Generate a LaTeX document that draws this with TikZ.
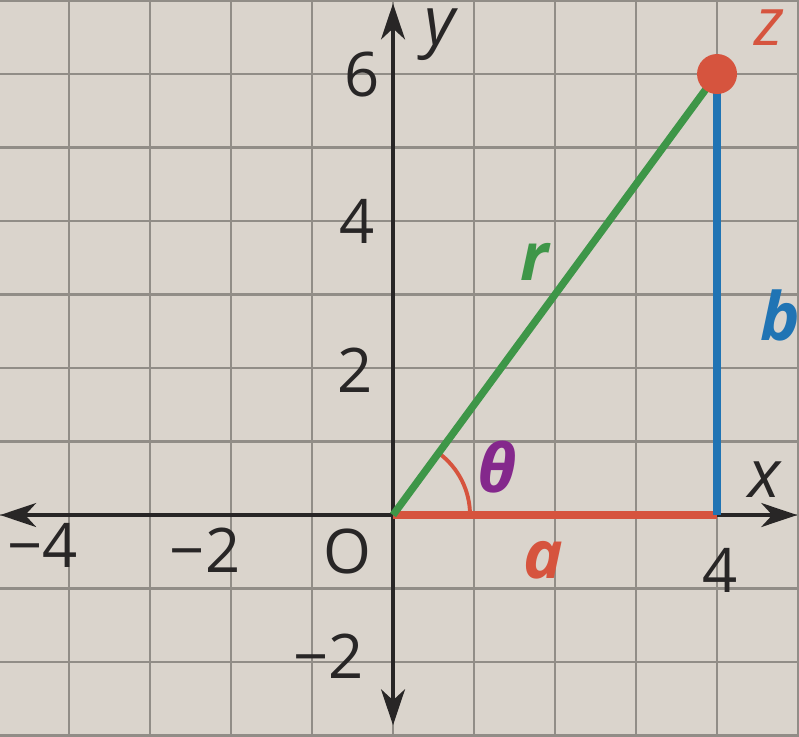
\documentclass[tikz,border=0pt]{standalone}
\usepackage{fontspec}
\setmainfont{Open Sans}
\usetikzlibrary{arrows.meta}

\definecolor{paper}{RGB}{218,212,204}
\definecolor{gridgray}{RGB}{145,141,135}
\definecolor{axisblack}{RGB}{40,38,38}
\definecolor{zred}{RGB}{214,84,62}
\definecolor{rgreen}{RGB}{62,150,72}
\definecolor{bblue}{RGB}{32,116,180}
\definecolor{thpurple}{RGB}{132,40,140}

\tikzset{
  gridline/.style={gridgray, line width=.6pt},
  axisline/.style={axisblack, line width=.9pt, {Stealth[length=3.6mm,width=2.4mm,inset=1.1mm]}-{Stealth[length=3.6mm,width=2.4mm,inset=1.1mm]}},
  side/.style={line width=2.1pt},
  ticklabel/.style={text=axisblack, inner sep=0pt},
  varlabel/.style={font=\fontsize{19}{22}\selectfont\bfseries\itshape, inner sep=0pt},
}

\begin{document}
\begin{tikzpicture}[x=.81cm, y=.735cm, font=\fontsize{17.5}{20}\selectfont]
    \fill[paper] (-4.852,-3.007) rectangle (5.012,7.007);
    \useasboundingbox (-4.852,-3.007) rectangle (5.012,7.007);
    % grid
    \foreach \x in {-4,...,5}
      \draw[gridline] (\x,-3.007) -- (\x,7.007);
    \foreach \y in {-3,...,7}
      \draw[gridline] (-4.852,\y) -- (5.012,\y);
    % axes
    \coordinate (O) at (0,0);
    \coordinate (xleft) at (-4.85,0);
    \coordinate (xright) at (4.99,0);
    \coordinate (ybottom) at (0,-2.86);
    \coordinate (ytop) at (0,6.96);
    \draw[axisline] (xleft) -- (xright);
    \draw[axisline] (ybottom) -- (ytop);
    \node[ticklabel] (yfour) at (-.44,3.99) {4};
    \node[ticklabel] (ysix) at (-.38,5.99) {6};
    \node[ticklabel] (ytwo) at (-.47,1.97) {2};
    \node[ticklabel] (ymtwo) at (-.80,-1.92) {−2};
    \node[ticklabel] (xmfour) at (-4.33,-.41) {−4};
    \node[ticklabel] (xmtwo) at (-2.32,-.48) {−2};
    \node[ticklabel] (origin) at (-.56,-.50) {O};
    \node[ticklabel] (xfour) at (4.04,-.75) {4};
    \node[ticklabel, font=\fontsize{19}{22}\selectfont\itshape] (ylab) at (.58,6.53) {y};
    \node[ticklabel, font=\fontsize{19}{22}\selectfont\itshape] (xlab) at (4.59,.48) {x};
    % triangle
    \coordinate (A) at (4,0);
    \coordinate (Z) at (4,6);
    \draw[side, zred] (O) -- (A);
    \draw[side, bblue] (A) -- (Z);
    \draw[zred, line width=1.1pt] (O) ++(0:.77cm) arc[start angle=0, end angle=53.7, radius=.77cm];
    \draw[side, rgreen] (O) -- (Z);
    \node[circle, fill=zred, minimum size=.4cm, inner sep=0pt] (zdot) at (Z) {};
    % labels
    \node[varlabel, text=zred, font=\fontsize{19}{22}\selectfont\itshape] (zlab) at (4.65,6.63) {z};
    \node[varlabel, text=rgreen] (rlab) at (1.75,3.44) {r};
    \node[varlabel, text=bblue] (blab) at (4.78,2.72) {b};
    \node[varlabel, text=zred] (alab) at (1.85,-.61) {a};
    \node[varlabel, text=thpurple] (thlab) at (1.28,.65) {θ};
  \end{tikzpicture}
\end{document}
